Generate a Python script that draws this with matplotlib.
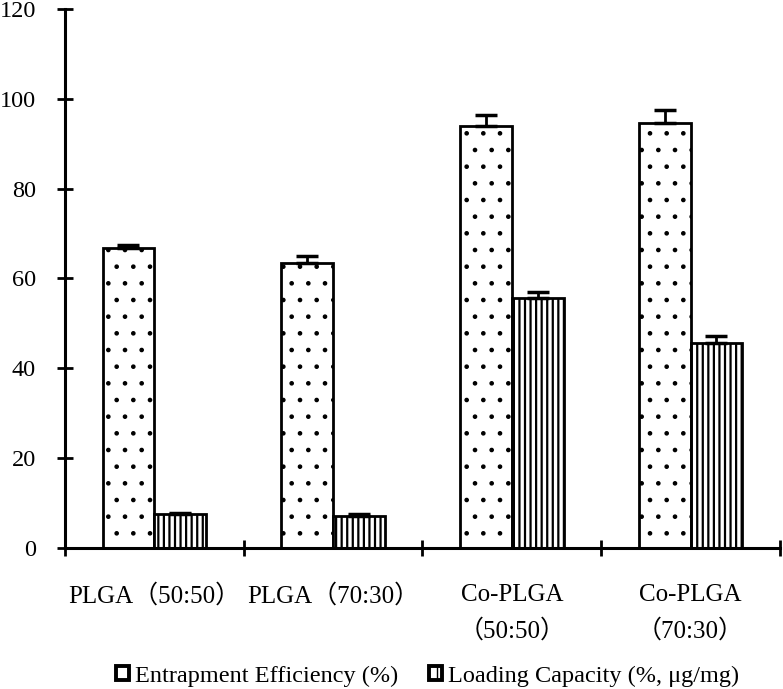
import matplotlib
matplotlib.use("Agg")
import matplotlib.pyplot as plt
from matplotlib.patches import Patch
import numpy as np

# Data
categories = ["PLGA（50:50）", "PLGA（70:30）", "Co-PLGA\n（50:50）", "Co-PLGA\n（70:30）"]
entrapment = [66.8, 63.4, 94.0, 94.7]
entrapment_err = [0.7, 1.5, 2.4, 2.7]
loading = [7.6, 7.2, 55.6, 45.6]
loading_err = [0.3, 0.3, 1.5, 1.5]
series_labels = ["Entrapment Efficiency (%)", "Loading Capacity (%, μg/mg)"]

plt.rcParams['font.family'] = ['Liberation Serif', 'Noto Sans CJK SC']

fig = plt.figure(figsize=(7.83, 6.89), dpi=100)
ax = fig.add_axes([0.083, 0.2046, 0.913, 0.7824])

x = np.arange(len(categories))
width = 0.29
zeros = np.zeros(len(categories))

with plt.rc_context({'hatch.linewidth': 0.9}):
    ax.bar(x - width / 2, entrapment, width, color='white', edgecolor='black',
           linewidth=2, hatch='.', zorder=2)
with plt.rc_context({'hatch.linewidth': 1.6}):
    ax.bar(x + width / 2, loading, width, color='white', edgecolor='black',
           linewidth=2, hatch='|||', zorder=2)
ax.errorbar(x - width / 2, entrapment, yerr=[zeros, entrapment_err], fmt='none',
            ecolor='black', elinewidth=2, capsize=8, capthick=2.5, zorder=3)
ax.errorbar(x + width / 2, loading, yerr=[zeros, loading_err], fmt='none',
            ecolor='black', elinewidth=2, capsize=8, capthick=2.5, zorder=3)

ax.set_xlim(-0.5, len(categories) - 0.5)
ax.set_ylim(0, 120)
ax.set_yticks(np.arange(0, 121, 20))

# boundary ticks on the x axis, category names as minor tick labels
ax.set_xticks(np.arange(len(categories) + 1) - 0.5)
ax.set_xticklabels([])
ax.set_xticks(x, minor=True)
ax.set_xticklabels(categories, minor=True, fontsize=18, linespacing=1.65)
ax.tick_params(axis='x', which='minor', length=0, pad=26)
ax.tick_params(axis='x', which='major', direction='inout', length=12, width=2)
ax.tick_params(axis='y', direction='inout', length=12, width=2, labelsize=17.5, pad=15)

for side in ['top', 'right']:
    ax.spines[side].set_visible(False)
for side in ['left', 'bottom']:
    ax.spines[side].set_linewidth(2.2)

handles = [Patch(facecolor='white', edgecolor='black', linewidth=2.8),
           Patch(facecolor='white', edgecolor='black', linewidth=2.8, hatch='||')]
fig.legend(handles, series_labels, loc='center', bbox_to_anchor=(0.546, 0.019),
           ncol=2, frameon=False, fontsize=17.5, handlelength=0.55, handleheight=0.55,
           handletextpad=0.25, columnspacing=1.25, borderpad=0)

fig.savefig("out.png", dpi=100)
